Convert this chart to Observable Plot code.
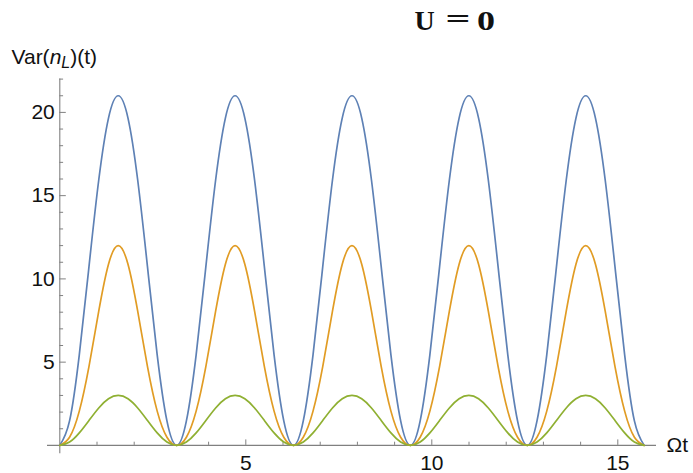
<!DOCTYPE html>
<html><head><meta charset="utf-8">
<script src="https://cdn.jsdelivr.net/npm/d3@7"></script>
<script src="https://cdn.jsdelivr.net/npm/@observablehq/plot@0.6"></script>
<style>body{margin:0;background:#fff} #chart{width:693px;height:473px}</style>
</head><body><div id="chart"></div>
<script>
// sample times (Ωt), step ≈ π/12
const t = [0,0.262,0.524,0.785,1.047,1.309,1.571,1.833,2.094,2.356,2.618,2.880,
  3.142,3.403,3.665,3.927,4.189,4.451,4.712,4.974,5.236,5.498,5.760,6.021,
  6.283,6.545,6.807,7.069,7.330,7.592,7.854,8.116,8.378,8.639,8.901,9.163,
  9.425,9.687,9.948,10.210,10.472,10.734,10.996,11.257,11.519,11.781,12.043,12.305,
  12.566,12.828,13.090,13.352,13.614,13.875,14.137,14.399,14.661,14.923,15.184,15.446,
  15.708];
const blue = [0,1.47,5.44,10.75,15.94,19.66,21,19.66,15.94,10.75,5.44,1.47,
  0,1.47,5.44,10.75,15.94,19.66,21,19.66,15.94,10.75,5.44,1.47,
  0,1.47,5.44,10.75,15.94,19.66,21,19.66,15.94,10.75,5.44,1.47,
  0,1.47,5.44,10.75,15.94,19.66,21,19.66,15.94,10.75,5.44,1.47,
  0,1.47,5.44,10.75,15.94,19.66,21,19.66,15.94,10.75,5.44,1.47,
  0];
const orange = [0,0.49,2.06,4.75,8.06,10.88,12,10.88,8.06,4.75,2.06,0.49,
  0,0.49,2.06,4.75,8.06,10.88,12,10.88,8.06,4.75,2.06,0.49,
  0,0.49,2.06,4.75,8.06,10.88,12,10.88,8.06,4.75,2.06,0.49,
  0,0.49,2.06,4.75,8.06,10.88,12,10.88,8.06,4.75,2.06,0.49,
  0,0.49,2.06,4.75,8.06,10.88,12,10.88,8.06,4.75,2.06,0.49,
  0];
const green = [0,0.20,0.75,1.50,2.25,2.80,3,2.80,2.25,1.50,0.75,0.20,
  0,0.20,0.75,1.50,2.25,2.80,3,2.80,2.25,1.50,0.75,0.20,
  0,0.20,0.75,1.50,2.25,2.80,3,2.80,2.25,1.50,0.75,0.20,
  0,0.20,0.75,1.50,2.25,2.80,3,2.80,2.25,1.50,0.75,0.20,
  0,0.20,0.75,1.50,2.25,2.80,3,2.80,2.25,1.50,0.75,0.20,
  0];
const xMajor = [5,10,15];
const xMinor = [1,2,3,4,6,7,8,9,11,12,13,14];
const yMajor = [5,10,15,20];
const yMinor = [1,2,3,4,6,7,8,9,11,12,13,14,16,17,18,19,21,22];

const W = 693, H = 473, mL = 59.3, mR = 37, mT = 78.6, mB = 28.1;
const fW = W - mL - mR, fH = H - mT - mB;
const axisColor = "#808080";
const cols = ["#5E81B5", "#E19C24", "#8FB032"];

const chart = Plot.plot({
  width: W, height: H,
  marginLeft: mL, marginRight: mR, marginTop: mT, marginBottom: mB,
  style: {fontFamily: "'Liberation Sans', Arial, sans-serif", background: "#fff", overflow: "visible"},
  x: {domain: [0, 16.04], axis: null},
  y: {domain: [0, 22], axis: null},
  marks: [
    Plot.ruleY([0], {stroke: axisColor, strokeWidth: 1.1, insetLeft: -12.3}),
    Plot.ruleX([0], {stroke: axisColor, strokeWidth: 1.1, insetBottom: -8.4}),
    Plot.tickX(xMajor, {x: d => d, stroke: axisColor, insetTop: fH - 5.5}),
    Plot.tickX(xMinor, {x: d => d, stroke: axisColor, insetTop: fH - 3.2}),
    Plot.tickY(yMajor, {y: d => d, stroke: axisColor, insetRight: fW - 6.5}),
    Plot.tickY(yMinor, {y: d => d, stroke: axisColor, insetRight: fW - 3.8}),
    Plot.text(xMajor, {x: d => d, text: d => String(d), frameAnchor: "bottom", lineAnchor: "top", dy: 10, fontSize: 21, fill: "#111"}),
    Plot.text(yMajor, {y: d => d, text: d => String(d), frameAnchor: "left", textAnchor: "end", dx: -5, fontSize: 21, fill: "#111"}),
    Plot.line(blue, {x: (d, i) => t[i], y: d => d, stroke: cols[0], strokeWidth: 1.7, curve: "natural"}),
    Plot.line(orange, {x: (d, i) => t[i], y: d => d, stroke: cols[1], strokeWidth: 1.7, curve: "natural"}),
    Plot.line(green, {x: (d, i) => t[i], y: d => d, stroke: cols[2], strokeWidth: 1.7, curve: "natural"})
  ]
});
document.getElementById("chart").appendChild(chart);

const svg = d3.select(chart);
const sans = "'Liberation Sans', Arial, sans-serif";
const serif = "'Liberation Serif', 'Times New Roman', serif";
// x-axis label
svg.append("text").attr("x", 666.5).attr("y", 452).attr("text-anchor", "start")
  .attr("font-family", sans).attr("font-size", 21).attr("fill", "#111").text("Ωt");
// y-axis label
const yl = svg.append("text").attr("x", 11.5).attr("y", 64).attr("text-anchor", "start")
  .attr("font-family", sans).attr("font-size", 21).attr("fill", "#111");
yl.append("tspan").text("Var(");
yl.append("tspan").attr("font-style", "italic").text("n");
yl.append("tspan").attr("font-style", "italic").attr("font-size", 16).attr("dy", 4).text("L");
yl.append("tspan").attr("dy", -4).text(")(t)");
// title "U = 0"
const title = svg.append("g").attr("font-family", serif).attr("font-weight", "bold")
  .attr("font-size", 28).attr("fill", "#111").attr("text-anchor", "start");
title.append("text").attr("x", 414.5).attr("y", 29.5).text("U");
title.append("text").attr("x", 445.5).attr("y", 27.5)
  .attr("textLength", 25).attr("lengthAdjust", "spacingAndGlyphs").text("=");
title.append("text").attr("x", 477).attr("y", 29.5)
  .attr("textLength", 18).attr("lengthAdjust", "spacingAndGlyphs").text("0");
</script>
</body></html>
